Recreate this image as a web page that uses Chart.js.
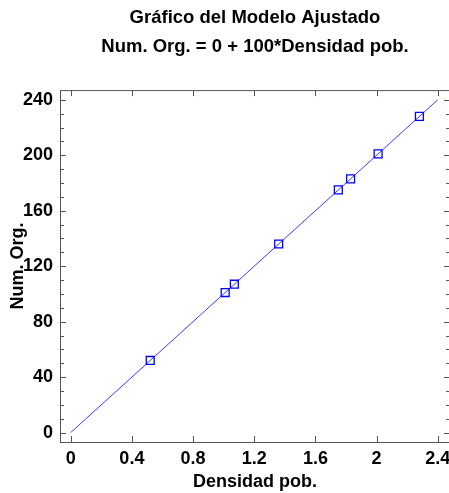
<!DOCTYPE html>
<html>
<head>
<meta charset="utf-8">
<script src="https://cdn.jsdelivr.net/npm/chart.js@4"></script>
<style>
  html, body { margin: 0; padding: 0; background: #fff; overflow: hidden; }
  #wrap { width: 449px; height: 493px; overflow: hidden; }
</style>
</head>
<body>
<div id="wrap"><canvas id="chart" width="470" height="493"></canvas></div>
<script>
// Observed data (Densidad pob. vs Num. Org.)
const densidad = [0.52, 1.01, 1.07, 1.36, 1.75, 1.83, 2.01, 2.28];
const numOrg = [52, 101, 107, 136, 175, 183, 201, 228];

// Fitted model line end points
const fitX = [0, 2.4];
const fitY = [0, 240];

const xTicks = [0, 0.4, 0.8, 1.2, 1.6, 2, 2.4];
const yTicks = [0, 40, 80, 120, 160, 200, 240];
const yMinorTicks = [10, 20, 30, 50, 60, 70, 90, 100, 110, 130, 140, 150, 170, 180, 190, 210, 220, 230];

const titleLines = ['Gráfico del Modelo Ajustado', 'Num. Org. = 0 + 100*Densidad pob.'];

Chart.defaults.font.family = '"Liberation Sans", Arial, sans-serif';
Chart.defaults.color = '#000';

const axisColor = '#555';

// Inward ticks on all four sides of the box
const innerTicks = {
    id: 'innerTicks',
    afterDraw(chart) {
        const { ctx, chartArea: a, scales: { x, y } } = chart;
        ctx.save();
        ctx.strokeStyle = axisColor;
        ctx.lineWidth = 1;
        ctx.beginPath();
        xTicks.forEach(v => {
            const px = Math.round(x.getPixelForValue(v)) + 0.5;
            ctx.moveTo(px, a.bottom); ctx.lineTo(px, a.bottom - 6);
            ctx.moveTo(px, a.top); ctx.lineTo(px, a.top + 6);
        });
        yTicks.forEach(v => {
            const py = Math.round(y.getPixelForValue(v)) + 0.5;
            ctx.moveTo(a.left, py); ctx.lineTo(a.left + 6, py);
            ctx.moveTo(a.right, py); ctx.lineTo(a.right - 6, py);
        });
        yMinorTicks.forEach(v => {
            const py = Math.round(y.getPixelForValue(v)) + 0.5;
            ctx.moveTo(a.left, py); ctx.lineTo(a.left + 4, py);
            ctx.moveTo(a.right, py); ctx.lineTo(a.right - 4, py);
        });
        ctx.stroke();
        ctx.strokeRect(a.left + 0.5, a.top + 0.5, a.right - a.left, a.bottom - a.top);
        ctx.restore();
    }
};

new Chart(document.getElementById('chart'), {
    type: 'scatter',
    data: {
        datasets: [
            {
                label: 'Modelo',
                data: fitX.map((v, i) => ({ x: v, y: fitY[i] })),
                showLine: true,
                borderColor: '#3a3aff',
                borderWidth: 1,
                pointRadius: 0,
                order: 2
            },
            {
                label: 'Observado',
                data: densidad.map((v, i) => ({ x: v, y: numOrg[i] })),
                pointStyle: 'rect',
                pointRadius: 5.6,
                borderColor: '#0000ff',
                backgroundColor: 'rgba(0,0,0,0)',
                borderWidth: 1.3,
                order: 1
            }
        ]
    },
    options: {
        responsive: false,
        animation: false,
        layout: { padding: { left: 4, right: 20, top: 0, bottom: 0 } },
        plugins: {
            legend: { display: false },
            tooltip: { enabled: false },
            title: {
                display: true,
                text: titleLines,
                fullSize: false,
                font: { size: 18.5, weight: 'bold', lineHeight: 1.57 },
                padding: { top: 3.5, bottom: 28.5 }
            }
        },
        scales: {
            x: {
                type: 'linear',
                min: -0.07,
                max: 2.48,
                grid: { display: false, drawTicks: false },
                border: { display: false },
                afterBuildTicks: s => { s.ticks = xTicks.map(v => ({ value: v })); },
                afterFit: s => { s.height = 51; },
                ticks: { font: { size: 18, weight: 'bold' }, padding: 6, maxRotation: 0, callback: v => String(v) },
                title: { display: true, text: 'Densidad pob.', font: { size: 18, weight: 'bold' }, padding: 0 }
            },
            y: {
                type: 'linear',
                min: -6.8,
                max: 247,
                grid: { display: false, drawTicks: false },
                border: { display: false },
                afterBuildTicks: s => { s.ticks = yTicks.map(v => ({ value: v })); },
                afterFit: s => { s.width = 56; },
                ticks: { font: { size: 18, weight: 'bold' }, padding: 7, callback: v => String(v) },
                title: { display: true, text: 'Num. Org.', font: { size: 18, weight: 'bold' }, padding: { top: 3, bottom: 0 } }
            }
        }
    },
    plugins: [innerTicks]
});
</script>
</body>
</html>
